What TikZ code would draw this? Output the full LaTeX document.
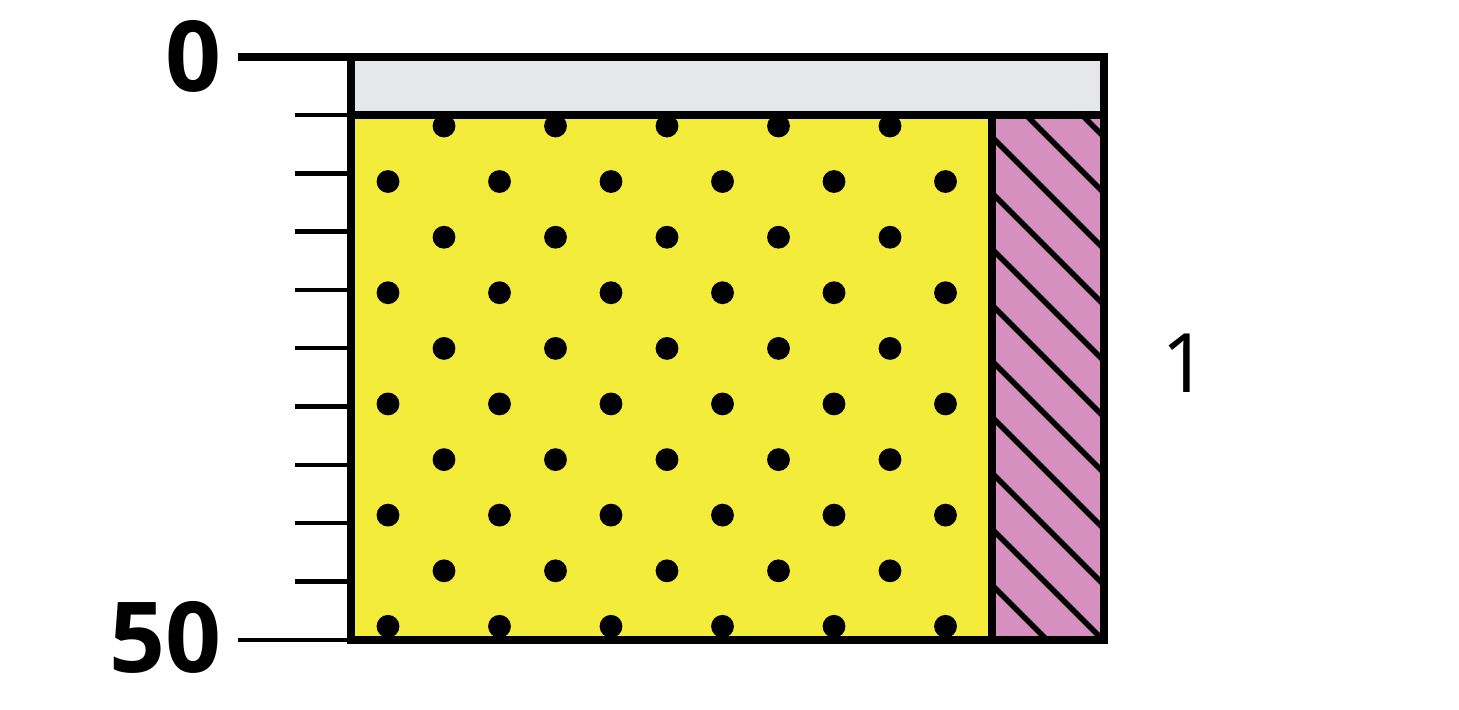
\documentclass[tikz,border=0pt]{standalone}
\usepackage{fontspec}
\newfontfamily\labfont{Open Sans}
\definecolor{cyel}{HTML}{F4EC3B}
\definecolor{cpink}{HTML}{D690BF}
\definecolor{cgray}{HTML}{E6E7E8}
\tikzset{
  border/.style={draw=black,line width=3.75pt},
  tick/.style={draw=black,line width=2.25pt},
  hatch/.style={draw=black,line width=2.8pt},
  dot/.style={fill=black},
  biglab/.style={inner sep=0pt,font=\labfont\bfseries\fontsize{49}{49}\selectfont},
  smalllab/.style={inner sep=0pt,font=\labfont\fontsize{41}{41}\selectfont}
}
\begin{document}
\begin{tikzpicture}[x=0.5pt,y=-0.5pt]
\useasboundingbox (0,0) rectangle (1459,709);
% fills
\fill[cgray] (351,57) rectangle (1104,115);
\fill[cyel] (351,115) rectangle (992,640);
\fill[cpink] (992,115) rectangle (1104,640);
% hatching
\begin{scope}
  \clip (992,115) rectangle (1104,640);
  \foreach \k in {-2,...,9}{
    \draw[hatch] (990,{142+56*\k-7}) -- (1110,{142+56*\k+113});
  }
\end{scope}
% dots
\foreach \r in {0,...,4}{
  \foreach \c in {0,...,4}{
    \fill[dot] ({444+111.5*\c},{126+111.2*\r}) circle[radius=5.7pt];
  }
  \foreach \c in {0,...,5}{
    \fill[dot] ({388+111.5*\c},{181.5+111.2*\r}) circle[radius=5.7pt];
  }
}
% ticks
\foreach \t in {0,...,8}{
  \draw[tick] (295,{115+58.3*\t}) -- (351,{115+58.3*\t});
}
\draw[line width=4pt] (238,57) -- (351,57);
\draw[line width=2.2pt] (238,640) -- (351,640);
% borders
\draw[border] (351,57) rectangle (1104,640);
\draw[border] (351,115) -- (1104,115);
\draw[border] (992,115) -- (992,640);
% labels
\node[biglab] (l0) at (193,56) {0};
\node[biglab] (l50) at (165,637) {50};
\node[smalllab] (l1) at (1185,363) {1};
\end{tikzpicture}
\end{document}
